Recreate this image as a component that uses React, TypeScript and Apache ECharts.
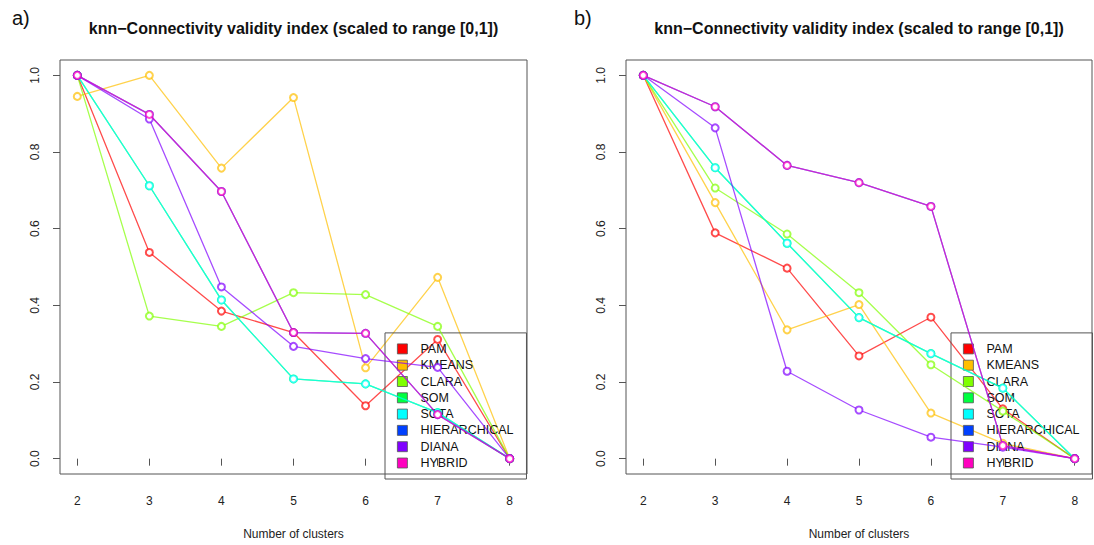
import React, { useEffect, useRef } from "react";
import * as echarts from "echarts";

const clusters = [2, 3, 4, 5, 6, 7, 8];
const yTicks = [0, 0.2, 0.4, 0.6, 0.8, 1.0];
const methods = ["PAM", "KMEANS", "CLARA", "SOM", "SOTA", "HIERARCHICAL", "DIANA", "HYBRID"];
const colors = ["#FF0000", "#FFBF00", "#80FF00", "#00FF40", "#00FFFF", "#0040FF", "#8000FF", "#FF00BF"];
const lineColors = [
  "rgba(255,0,0,0.7)",
  "rgba(255,191,0,0.7)",
  "rgba(128,255,0,0.7)",
  "rgba(0,255,64,0.7)",
  "rgba(0,255,255,0.7)",
  "rgba(0,64,255,0.7)",
  "rgba(128,0,255,0.7)",
  "rgba(255,0,191,0.7)",
];

// Panel a)
const aPAM = [1.0, 0.538, 0.385, 0.329, 0.138, 0.311, 0.0];
const aKMEANS = [0.945, 1.0, 0.758, 0.942, 0.237, 0.473, 0.0];
const aCLARA = [1.0, 0.372, 0.345, 0.433, 0.428, 0.345, 0.0];
const aSOM = [1.0, 0.712, 0.414, 0.208, 0.195, 0.12, 0.0];
const aSOTA = [1.0, 0.712, 0.414, 0.208, 0.195, 0.12, 0.0];
const aHIERARCHICAL = [1.0, 0.898, 0.697, 0.329, 0.327, 0.115, 0.0];
const aDIANA = [1.0, 0.886, 0.448, 0.293, 0.261, 0.238, 0.0];
const aHYBRID = [1.0, 0.898, 0.697, 0.329, 0.327, 0.115, 0.0];

// Panel b)
const bPAM = [1.0, 0.589, 0.497, 0.268, 0.369, 0.13, 0.0];
const bKMEANS = [1.0, 0.668, 0.336, 0.402, 0.119, 0.04, 0.0];
const bCLARA = [1.0, 0.706, 0.586, 0.433, 0.245, 0.124, 0.0];
const bSOM = [1.0, 0.759, 0.562, 0.368, 0.274, 0.184, 0.0];
const bSOTA = [1.0, 0.759, 0.562, 0.368, 0.274, 0.184, 0.0];
const bHIERARCHICAL = [1.0, 0.918, 0.765, 0.72, 0.658, 0.034, 0.0];
const bDIANA = [1.0, 0.863, 0.228, 0.127, 0.056, 0.03, 0.0];
const bHYBRID = [1.0, 0.918, 0.765, 0.72, 0.658, 0.034, 0.0];

const panelA = [aPAM, aKMEANS, aCLARA, aSOM, aSOTA, aHIERARCHICAL, aDIANA, aHYBRID];
const panelB = [bPAM, bKMEANS, bCLARA, bSOM, bSOTA, bHIERARCHICAL, bDIANA, bHYBRID];

const title = "knn\u2212Connectivity validity index (scaled to range [0,1])";
const xTitle = "Number of clusters";
const panelLabels = ["a)", "b)"];

const FONT = "'Liberation Sans', Arial, Helvetica, sans-serif";

export default function App() {
  const ref = useRef<HTMLDivElement>(null);
  useEffect(() => {
    if (!ref.current) return;
    const chart = echarts.init(ref.current, null, { renderer: "svg" });
    const grids = [
      { left: 60, top: 60, width: 467, height: 419 },
      { left: 626, top: 60, width: 466, height: 419 },
    ];
    const xAxes = grids.map((_, i) => ({
      type: "value",
      gridIndex: i,
      min: 1.76,
      max: 8.24,
      axisLine: { show: false },
      splitLine: { show: false },
      axisTick: {
        show: true,
        inside: false,
        length: 7,
        customValues: clusters,
        lineStyle: { color: "#555", width: 1 },
      },
      axisLabel: {
        customValues: clusters,
        margin: 21,
        fontSize: 12,
        fontFamily: FONT,
        color: "#222",
      },
      name: xTitle,
      nameLocation: "middle",
      nameGap: 54,
      nameTextStyle: { fontSize: 12, fontFamily: FONT, color: "#222" },
    }));
    const yAxes = grids.map((_, i) => ({
      type: "value",
      gridIndex: i,
      min: -0.04,
      max: 1.04,
      axisLine: { show: false },
      splitLine: { show: false },
      axisTick: {
        show: true,
        inside: false,
        length: 7,
        customValues: yTicks,
        lineStyle: { color: "#555", width: 1 },
      },
      axisLabel: {
        customValues: yTicks,
        rotate: 90,
        margin: 19,
        fontSize: 12,
        fontFamily: FONT,
        color: "#222",
        formatter: (v: number) => v.toFixed(1),
      },
    }));
    const series: any[] = [];
    [panelA, panelB].forEach((panel, p) => {
      panel.forEach((vals, m) => {
        series.push({
          type: "line",
          name: methods[m],
          xAxisIndex: p,
          yAxisIndex: p,
          data: clusters.map((c, k) => [c, vals[k]]),
          symbol: "emptyCircle",
          symbolSize: 7,
          lineStyle: { color: lineColors[m], width: 1.3 },
          itemStyle: { color: lineColors[m], borderColor: lineColors[m], borderWidth: 1.5 },
          emphasis: { disabled: true },
          z: 2 + m,
        });
      });
    });
    const legendData = methods.map((name, m) => ({
      name,
      itemStyle: { color: colors[m], borderColor: "#555", borderWidth: 0.8 },
    }));
    const legendBase = {
      orient: "vertical",
      data: legendData,
      icon: "rect",
      itemWidth: 10,
      itemHeight: 10,
      itemGap: 0.3,
      bottom: 66,
      padding: [8, 13, 8, 12],
      borderColor: "#555",
      borderWidth: 1,
      selectedMode: false,
      textStyle: {
        fontSize: 12.5,
        fontFamily: FONT,
        color: "#111",
        lineHeight: 16,
        padding: [0, 0, 0, 8],
      },
    };
    const titleStyle = {
      text: title,
      fontSize: 16,
      fontWeight: "bold",
      fontFamily: FONT,
      fill: "#111",
      align: "center",
      verticalAlign: "middle",
    };
    const option: any = {
      animation: false,
      grid: grids.map((g) => ({
        ...g,
        show: true,
        borderColor: "#555",
        borderWidth: 1,
        backgroundColor: "transparent",
      })),
      xAxis: xAxes,
      yAxis: yAxes,
      legend: [
        { ...legendBase, left: 385 },
        { ...legendBase, left: 951 },
      ],
      series,
      graphic: [
        {
          type: "text",
          left: 12,
          top: 8,
          style: { text: panelLabels[0], fontSize: 20, fontFamily: FONT, fill: "#111" },
        },
        {
          type: "text",
          left: 574,
          top: 8,
          style: { text: panelLabels[1], fontSize: 20, fontFamily: FONT, fill: "#111" },
        },
        { type: "text", x: 293.5, y: 28, style: titleStyle },
        { type: "text", x: 859, y: 28, style: titleStyle },
      ],
    };
    chart.setOption(option);
    return () => chart.dispose();
  }, []);
  return (
    <div
      ref={ref}
      style={{ position: "fixed", left: 0, top: 0, width: 1094, height: 545, background: "#fff" }}
    />
  );
}
